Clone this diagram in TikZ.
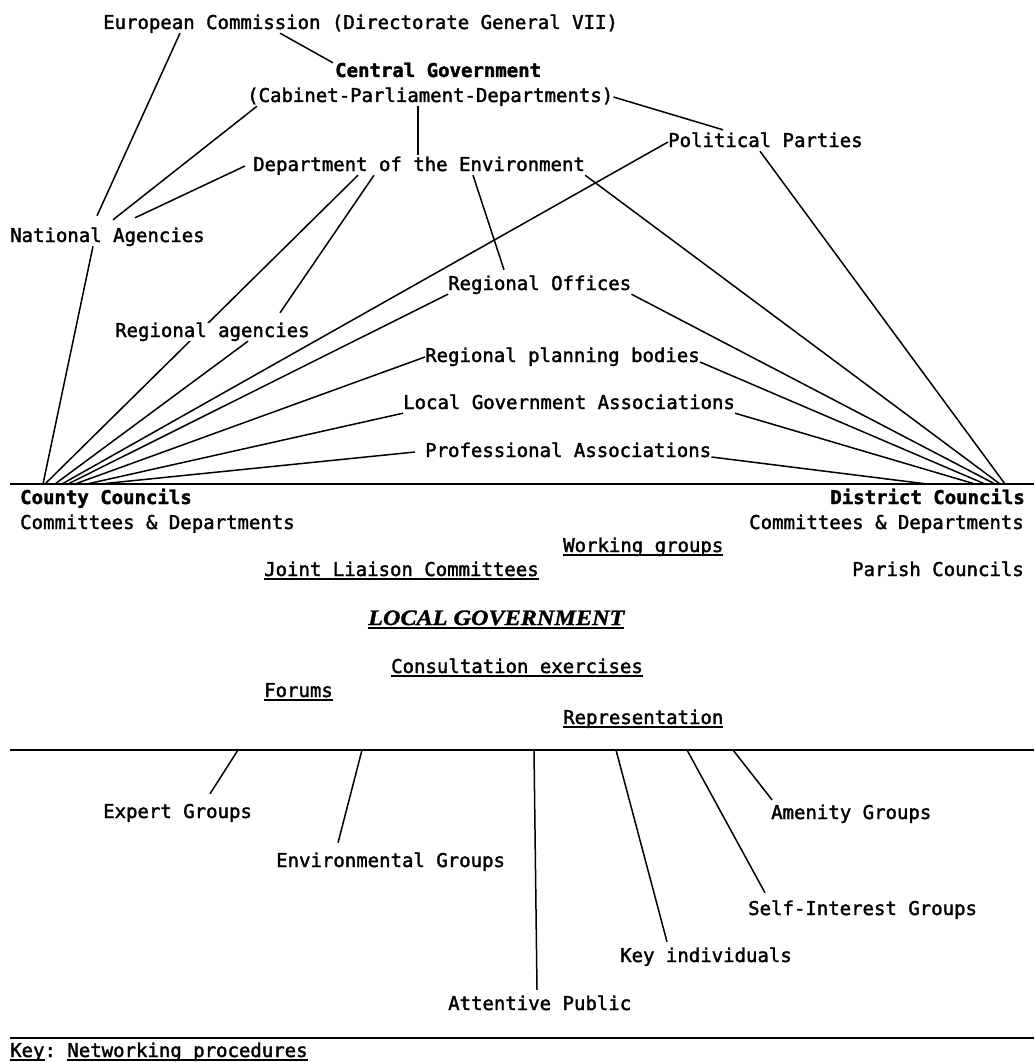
\documentclass[tikz,border=0pt]{standalone}
\usepackage{fontspec}
\usepackage{graphicx}
\usetikzlibrary{positioning}
\newfontfamily\netfont{DejaVu Sans Mono}[FakeBold=1.8]
\newfontfamily\lgfont{Liberation Serif}[FakeBold=1.2]
\newcommand{\undl}[1]{\setbox0\hbox{#1}\rlap{\rule[-4pt]{\wd0}{1.8pt}}\box0}
\frenchspacing

\begin{document}
\begin{tikzpicture}[x=1pt, y=-1pt,
      lbl/.style={inner sep=0pt, anchor=west, text height=14pt, text depth=4pt,
        font=\netfont\fontsize{19}{22}\selectfont},
      hd/.style={lbl, font=\netfont\fontsize{19}{22}\selectfont\bfseries},
      rlbl/.style={lbl, anchor=east},
      rhd/.style={hd, anchor=east},
      link/.style={line width=1.5pt},
      sepline/.style={line width=2.8pt}]
      \useasboundingbox (0,0) rectangle (1034,1062);
      \fill[white] (0,0) rectangle (1034,1062);
      % central level
      \node[lbl]    at (103,24)  (ec) {European Commission (Directorate General VII)};
      \node[hd]     at (335,72)  (cg) {Central Government};
      \node[lbl]    at (247,97)  (cab) {(Cabinet-Parliament-Departments)};
      \node[lbl]    at (668,142) (pp) {Political Parties};
      \node[lbl]    at (253,166) (doe) {Department of the Environment};
      \node[lbl]    at (10,237)  (na) {National Agencies};
      \node[lbl]    at (448,285) (ro) {Regional Offices};
      \coordinate (cctop) at (20,484);
      \coordinate (dctop) at (1024,484);
      \draw[link] ([xshift=105pt]doe.south west) to ([xshift=25pt]cctop);
      \node[lbl,fill=white] at (115,332) (ra) {Regional agencies};
      \node[lbl]    at (425,357) (rpb) {Regional planning bodies};
      \node[lbl]    at (403,404) (lga) {Local Government Associations};
      \node[lbl]    at (425,452) (pa) {Professional Associations};
      % local government
      \node[hd]     at (20,499)   (cc) {County Councils};
      \node[lbl]    at (20,524)   (ccd) {Committees \& Departments};
      \node[rhd]    at (1025,499) (dc) {District Councils};
      \node[rlbl]   at (1024,524) (dcd) {Committees \& Departments};
      \node[lbl]    at (563,547)  (wg) {\undl{Working groups}};
      \node[lbl]    at (264,571)  (jlc) {\undl{Joint Liaison Committees}};
      \node[rlbl]   at (1024,571) (pc) {Parish Councils};
      \node[lbl,font=\lgfont\fontsize{22}{26}\selectfont\bfseries\itshape]
                    at (368,620)  (lg) {\undl{\scalebox{1.1}[1]{LOCAL GOVERNMENT}}};
      \node[lbl]    at (391,668)  (ce) {\undl{Consultation exercises}};
      \node[lbl]    at (264,692)  (fo) {\undl{Forums}};
      \node[lbl]    at (563,719)  (rep) {\undl{Representation}};
      % public
      \node[lbl]    at (103,813)  (eg) {Expert Groups};
      \node[lbl]    at (276,862)  (envg) {Environmental Groups};
      \node[lbl]    at (771,814)  (ag) {Amenity Groups};
      \node[lbl]    at (748,910)  (sig) {Self-Interest Groups};
      \node[lbl]    at (620,957)  (ki) {Key individuals};
      \node[lbl]    at (448,1005) (ap) {Attentive Public};
      \node[lbl]    at (10,1052)  (key) {\undl{Key}: \undl{Networking procedures}};
      \coordinate (mid) at (10,750);
      \coordinate (low) at (10,1038);
      \draw[sepline] (10,484) -- (1034,484);
      \draw[sepline] (mid) -- (1034,750);
      \draw[sepline] (low) -- (1034,1038);
      % upper links
      \draw[link] ([xshift=77pt]ec.south west) to ([xshift=87pt,yshift=12pt]na.north west);
      \draw[link] ([xshift=177pt]ec.south west) to ([xshift=-2pt]cg.north west);
      \draw[link] ([xshift=10pt]cab.south west) to ([xshift=103pt,yshift=8pt]na.north west);
      \draw[link] ([xshift=-8pt]doe.west) to ([xshift=125pt,yshift=10pt]na.north west);
      \draw[link] ([xshift=171pt]cab.south west) to ([xshift=165pt,yshift=2pt]doe.north west);
      \draw[link] (cab.east) to ([xshift=55pt,yshift=3pt]pp.north west);
      \draw[link] ([xshift=220pt]doe.south west) to ([xshift=56pt,yshift=6pt]ro.north west);
      \draw[link] ([xshift=121pt]doe.south west) to ([xshift=165pt,yshift=10pt]ra.north west);
      % to county councils
      \draw[link] ([xshift=83pt]na.south west) to ([xshift=23pt]cctop);
      \draw[link] ([xshift=133pt]ra.south west) to ([xshift=35pt]cctop);
      \draw[link] (pp.west) to ([xshift=42pt]cctop);
      \draw[link] (ro.south west) to ([xshift=48pt]cctop);
      \draw[link] (rpb.west) to ([xshift=55pt]cctop);
      \draw[link] (lga.south west) to ([xshift=67pt]cctop);
      \draw[link] ([xshift=-10pt]pa.west) to ([xshift=80pt]cctop);
      % to district councils
      \draw[link] ([xshift=92pt]pp.south west) to ([xshift=-19pt]dctop);
      \draw[link] (doe.south east) to ([xshift=-24pt]dctop);
      \draw[link] (ro.south east) to ([xshift=-29pt]dctop);
      \draw[link] ([yshift=-5pt]rpb.east) to ([xshift=-39pt]dctop);
      \draw[link] (lga.south east) to ([xshift=-49pt]dctop);
      \draw[link] (pa.base east) to ([xshift=-97pt]dctop);
      % lower links
      \draw[link] ([xshift=228pt]mid) to ([xshift=107pt,yshift=10pt]eg.north west);
      \draw[link] ([xshift=352pt]mid) to ([xshift=62pt,yshift=10pt]envg.north west);
      \draw[link] ([xshift=524pt]mid) to ([xshift=89pt,yshift=6pt]ap.north west);
      \draw[link] ([xshift=606pt]mid) to ([xshift=47pt,yshift=6pt]ki.north west);
      \draw[link] ([xshift=677pt]mid) to ([xshift=17pt,yshift=8pt]sig.north west);
      \draw[link] ([xshift=723pt]mid) to ([xshift=1pt,yshift=5pt]ag.north west);
    \end{tikzpicture}
\end{document}
